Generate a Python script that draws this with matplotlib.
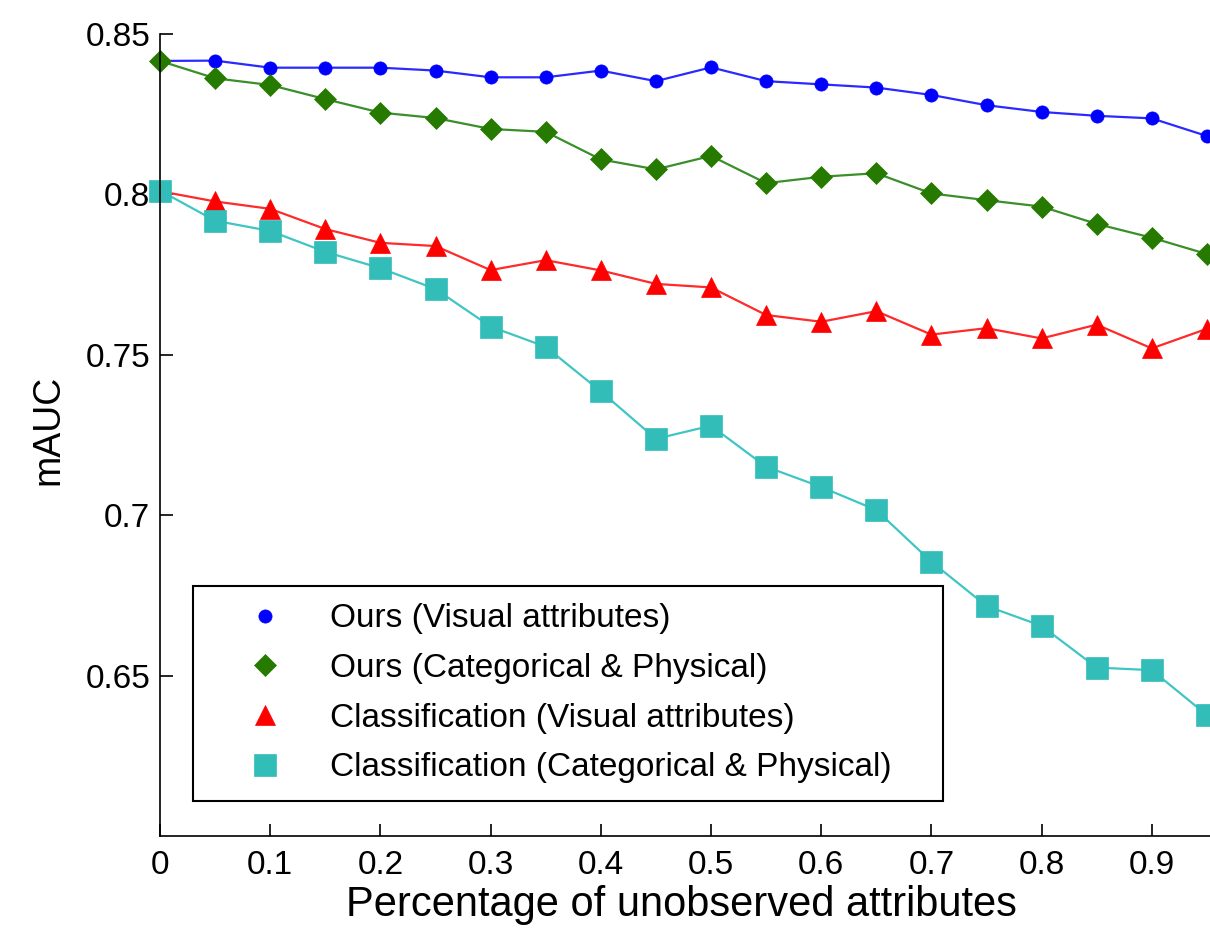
import numpy as np
import matplotlib
matplotlib.use('Agg')
import matplotlib.pyplot as plt
from matplotlib.lines import Line2D

plt.rcParams['font.family'] = ['Liberation Sans', 'DejaVu Sans']

# доля ненаблюдаемых атрибутов
x_vals = [0.0, 0.05, 0.1, 0.15, 0.2, 0.25, 0.3, 0.35, 0.4, 0.45,
          0.5, 0.55, 0.6, 0.65, 0.7, 0.75, 0.8, 0.85, 0.9, 0.95]

ours_visual = [0.8416, 0.8417, 0.8395, 0.8395, 0.8395, 0.8386, 0.8365, 0.8365, 0.8386, 0.8353,
               0.8396, 0.8353, 0.8343, 0.8333, 0.8310, 0.8278, 0.8257, 0.8245, 0.8237, 0.8182]
ours_catphys = [0.8416, 0.8362, 0.8341, 0.8297, 0.8255, 0.8238, 0.8204, 0.8195, 0.8109, 0.8078,
                0.8120, 0.8035, 0.8055, 0.8066, 0.8003, 0.7982, 0.7962, 0.7908, 0.7865, 0.7814]
cls_visual = [0.8010, 0.7978, 0.7955, 0.7892, 0.7849, 0.7839, 0.7764, 0.7795, 0.7763, 0.7721,
              0.7710, 0.7624, 0.7603, 0.7636, 0.7563, 0.7583, 0.7551, 0.7594, 0.7520, 0.7581]
cls_catphys = [0.8012, 0.7918, 0.7886, 0.7821, 0.7770, 0.7705, 0.7588, 0.7525, 0.7386, 0.7238,
               0.7279, 0.7151, 0.7088, 0.7016, 0.6855, 0.6717, 0.6655, 0.6525, 0.6517, 0.6377]

labels = ['Ours (Visual attributes)', 'Ours (Categorical & Physical)',
          'Classification (Visual attributes)', 'Classification (Categorical & Physical)']
xtick_vals = [0, 0.1, 0.2, 0.3, 0.4, 0.5, 0.6, 0.7, 0.8, 0.9]
xtick_labels = ['0', '0.1', '0.2', '0.3', '0.4', '0.5', '0.6', '0.7', '0.8', '0.9']
ytick_vals = [0.65, 0.7, 0.75, 0.8, 0.85]
ytick_labels = ['0.65', '0.7', '0.75', '0.8', '0.85']

W, H = 1210, 931
fig = plt.figure(figsize=(W / 100, H / 100), dpi=100)
# ось x продолжается за правый край картинки (как в исходнике)
ax = fig.add_axes([160 / W, (H - 836) / H, 1102 / W, 802 / H])

styles = [
    # (данные, маркер, цвет маркера, цвет линии, размер)
    (ours_visual, 'o', '#0000FF', '#2a2aff', 9.5),
    (ours_catphys, 'D', '#267A00', '#3a8f2a', 11),
    (cls_visual, '^', '#FF0000', '#ff2a2a', 15),
    (cls_catphys, 's', '#33BDB9', '#3fc6c4', 15.5),
]

handles = []
for (d, m, mc, lc, ms), lab in zip(styles, labels):
    ax.plot(x_vals, d, '-', color=lc, linewidth=1.6, clip_on=False)
    ax.plot(x_vals, d, linestyle='none', marker=m, markersize=ms,
            markerfacecolor=mc, markeredgecolor=mc, markeredgewidth=0.5, clip_on=False)
    handles.append(Line2D([], [], linestyle='none', marker=m, markersize=ms,
                          markerfacecolor=mc, markeredgecolor=mc, markeredgewidth=0.5))

ax.set_xlim(0, 1)
ax.set_ylim(0.6, 0.85)
ax.set_xticks(xtick_vals)
ax.set_xticklabels(xtick_labels)
ax.set_yticks(ytick_vals)
ax.set_yticklabels(ytick_labels)
ax.tick_params(direction='in', length=9, width=1.2, labelsize=24, pad=7)
ax.tick_params(axis='x', pad=10)
ax.spines['top'].set_visible(False)
ax.spines['right'].set_visible(False)
ax.spines['left'].set_linewidth(1.2)
ax.spines['bottom'].set_linewidth(1.2)

ax.set_xlabel('Percentage of unobserved attributes', fontsize=30)
ax.xaxis.set_label_coords(0.4728, -0.061)
ax.set_ylabel('mAUC', fontsize=27)
ax.yaxis.set_label_coords(-0.085, 0.506)

leg = ax.legend(handles, labels, loc='upper left',
                bbox_to_anchor=(193 / W, 1 - 801 / H, 750 / W, 215 / H),
                bbox_transform=fig.transFigure, mode='expand',
                borderaxespad=0, fontsize=24, borderpad=0.52, labelspacing=0.56,
                handlelength=3.29, handletextpad=0.3, fancybox=False, framealpha=1)
leg.get_frame().set_edgecolor('black')
leg.get_frame().set_linewidth(1.5)

fig.savefig('out.png', dpi=100)
